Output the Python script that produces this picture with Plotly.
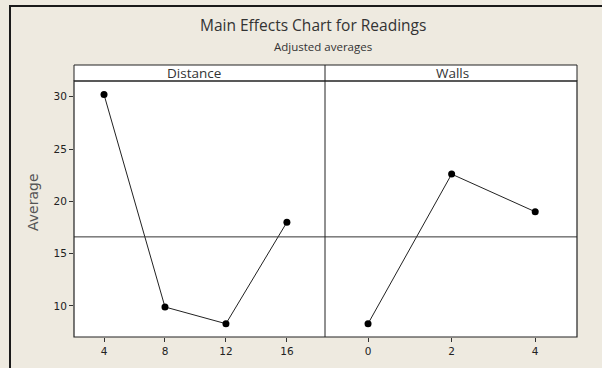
import plotly.graph_objects as go

W, H = 602, 368

distance_levels = [4, 8, 12, 16]
distance_means = [30.2, 9.9, 8.3, 18.0]
walls_levels = [0, 2, 4]
walls_means = [8.3, 22.6, 19.0]
grand_mean = 16.6

distance_ticks = [4, 8, 12, 16]
walls_ticks = [0, 2, 4]
y_ticks = [10, 15, 20, 25, 30]

title = "Main Effects Chart for Readings"
subtitle = "Adjusted averages"
panel_names = ["Distance", "Walls"]

bg = "#EEEAE0"

def px(x):
    return x / W

def py(y):
    return (H - y) / H

L, M, R = 74, 325, 577
TOP_STRIP, TOP, BOT = 65, 81, 337

fig = go.Figure()
marker = dict(color="black", size=7, symbol="circle")
line = dict(color="#222222", width=1)
fig.add_trace(go.Scatter(x=distance_levels, y=distance_means, mode="lines+markers",
                         marker=marker, line=line, xaxis="x", yaxis="y", showlegend=False))
fig.add_trace(go.Scatter(x=walls_levels, y=walls_means, mode="lines+markers",
                         marker=marker, line=line, xaxis="x2", yaxis="y2", showlegend=False))

tickfont = dict(family="DejaVu Sans", size=10.5, color="#222222")
common_x = dict(showgrid=False, zeroline=False, ticks="outside", ticklen=4, tickcolor="#333333",
                tickfont=tickfont, showline=False, fixedrange=True)
fig.update_layout(
    width=W, height=H, margin=dict(l=0, r=0, t=0, b=0),
    paper_bgcolor=bg, plot_bgcolor="white",
    xaxis=dict(domain=[px(L), px(M)], range=[2.03, 18.5], tickvals=distance_ticks,
               anchor="y", **common_x),
    xaxis2=dict(domain=[px(M), px(R)], range=[-1.03, 5.0], tickvals=walls_ticks,
                anchor="y2", **common_x),
    yaxis=dict(domain=[py(BOT), py(TOP)], range=[7.03, 31.5], tickvals=y_ticks,
               showgrid=False, zeroline=False, ticks="outside", ticklen=4, tickcolor="#333333",
               tickfont=tickfont, anchor="x", fixedrange=True),
    yaxis2=dict(domain=[py(BOT), py(TOP)], range=[7.03, 31.5], showticklabels=False,
                showgrid=False, zeroline=False, anchor="x2", matches="y", fixedrange=True),
    showlegend=False,
)

shapes = []
shapes.append(dict(type="line", xref="x", yref="y", x0=2.03, x1=18.5, y0=grand_mean, y1=grand_mean,
                   line=dict(color="#333333", width=1)))
shapes.append(dict(type="line", xref="x2", yref="y2", x0=-1.03, x1=5.0, y0=grand_mean, y1=grand_mean,
                   line=dict(color="#333333", width=1)))
shapes.append(dict(type="rect", xref="paper", yref="paper", x0=px(L), x1=px(R), y0=py(TOP), y1=py(TOP_STRIP),
                   fillcolor="white", line=dict(color="#222222", width=1), layer="below"))
shapes.append(dict(type="rect", xref="paper", yref="paper", x0=px(L), x1=px(R), y0=py(BOT), y1=py(TOP),
                   line=dict(color="#222222", width=1.2)))
shapes.append(dict(type="line", xref="paper", yref="paper", x0=px(M), x1=px(M), y0=py(BOT), y1=py(TOP_STRIP),
                   line=dict(color="#222222", width=1)))
shapes.append(dict(type="path", xref="paper", yref="paper",
                   path=f"M {px(10)} 0 L {px(10)} {py(6)} L 1 {py(6)}",
                   line=dict(color="#1a1a1a", width=2)))
fig.update_layout(shapes=shapes)

ann = []
ann.append(dict(text=title, x=px(313), y=py(25), xref="paper", yref="paper", showarrow=False,
                font=dict(family="Open Sans", size=15.5, color="#333333"), xanchor="center", yanchor="middle"))
ann.append(dict(text=subtitle, x=px(323), y=py(47), xref="paper", yref="paper", showarrow=False,
                font=dict(family="Open Sans", size=11.5, color="#333333"), xanchor="center", yanchor="middle"))
ann.append(dict(text=panel_names[0], x=px(193.5), y=py(73.5), xref="paper", yref="paper", showarrow=False,
                font=dict(family="Open Sans", size=13.5, color="#333333"), xanchor="center", yanchor="middle"))
ann.append(dict(text=panel_names[1], x=px(452), y=py(73.5), xref="paper", yref="paper", showarrow=False,
                font=dict(family="Open Sans", size=13.5, color="#333333"), xanchor="center", yanchor="middle"))
ann.append(dict(text="Average", x=px(33), y=py(202), xref="paper", yref="paper", showarrow=False, textangle=-90,
                font=dict(family="DejaVu Sans", size=14, color="#555555"), xanchor="center", yanchor="middle"))
fig.update_layout(annotations=ann)

fig.write_html("out.html", config={"displayModeBar": False},
               post_script="document.body.style.margin='0';document.body.style.overflow='hidden';document.body.style.background='" + bg + "';")
